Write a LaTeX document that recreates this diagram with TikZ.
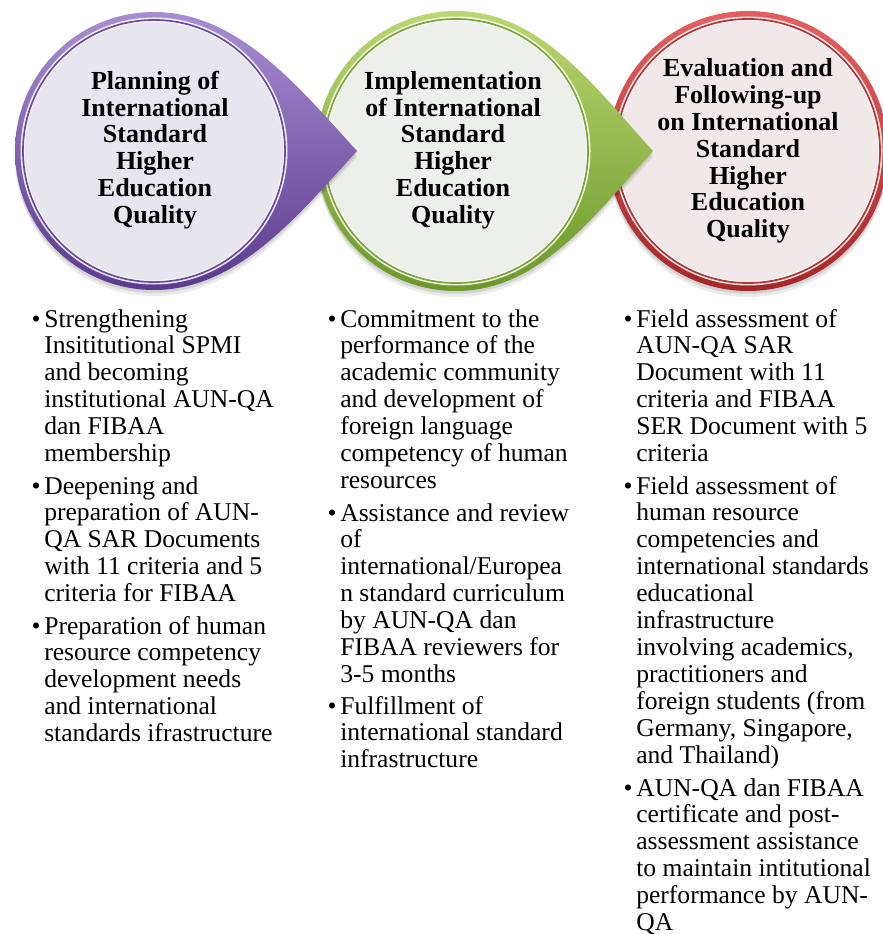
\documentclass[tikz,border=0pt]{standalone}
\usepackage{fontspec}
\setmainfont{Liberation Serif}

\definecolor{plumA}{HTML}{A78ED3}
\definecolor{plumB}{HTML}{5A3B8E}
\definecolor{plumIn}{HTML}{E7E5ED}
\definecolor{leafA}{HTML}{BAD870}
\definecolor{leafB}{HTML}{6C982A}
\definecolor{leafIn}{HTML}{EDEFEA}
\definecolor{rubyA}{HTML}{E46060}
\definecolor{rubyB}{HTML}{A52828}
\definecolor{rubyIn}{HTML}{F1E8EA}

\tikzset{
  % circle with a pointed tail on its right: centre x, centre y, radius, tip x
  teardrop/.style n args={4}{insert path={
    (#1,#2-#3) arc[start angle=270,end angle=90,radius=#3]
    .. controls (#1+85,#2+#3) and (#4-57,#2+62) .. (#4,#2)
    .. controls (#4-57,#2-62) and (#1+85,#2-#3) .. cycle}},
  title/.style={align=center, inner sep=0pt,
    font={\fontsize{19.5}{20.1}\selectfont\bfseries}},
  itemtext/.style={anchor=base west, inner sep=0pt,
    font={\fontsize{19.2}{20.2}\selectfont}},
  bulletmark/.style={anchor=base, inner sep=0pt,
    font={\fontsize{19.2}{20.2}\selectfont}}
}

% lines of one item, baseline at the first line
\newcommand{\itemlines}[1]{\begin{tabular}[t]{@{}l@{}}#1\end{tabular}}

% inner rings shared by every stage: centre x, centre y, radius, light, dark, fill
\newcommand{\rings}[6]{%
  \fill[white, opacity=0.85] (#1,#2) circle (#3-5.5);
  \draw[#5!80!#4, line width=1.3pt, fill=#6] (#1,#2) circle (#3-8);
  \draw[white, opacity=0.6, line width=0.8pt] (#1,#2) circle (#3-9.5);
}
% stage with a tail: centre x, centre y, radius, tip x, light, dark, fill
\newcommand{\stage}[7]{%
  \fill[black, opacity=0.08, teardrop={#1}{#2+6}{#3}{#4}];
  \fill[black, opacity=0.10, teardrop={#1}{#2+3}{#3}{#4}];
  \path[teardrop={#1}{#2}{#3}{#4}, top color=#5, bottom color=#6];
  \rings{#1}{#2}{#3}{#5}{#6}{#7}
}
% last stage, a plain ring: centre x, centre y, radius, light, dark, fill
\newcommand{\laststage}[6]{%
  \fill[black, opacity=0.08] (#1,#2+6) circle (#3);
  \fill[black, opacity=0.10] (#1,#2+3) circle (#3);
  \path[top color=#4, bottom color=#5] (#1,#2) circle (#3);
  \rings{#1}{#2}{#3}{#4}{#5}{#6}
}

\begin{document}
\begin{tikzpicture}[x=0.75pt,y=-0.75pt]
\useasboundingbox (0,0) rectangle (882,934);

% stages, drawn right to left so each tail lies over the next circle
\laststage{748}{151}{140}{rubyA}{rubyB}{rubyIn}
\stage{456}{151}{140}{653}{leafA}{leafB}{leafIn}
\stage{154}{151}{139}{357}{plumA}{plumB}{plumIn}

% titles
\node[title] (t1) at (155,150) {Planning of\\International\\Standard\\Higher\\Education\\Quality};
\node[title] (t2) at (453,150) {Implementation\\of International\\Standard\\Higher\\Education\\Quality};
\node[title] (t3) at (748,151) {Evaluation and\\Following-up\\on International\\Standard\\Higher\\Education\\Quality};

% first column
\node[bulletmark] (b11) at (36,327) {\textbullet};
\node[itemtext] (p11) at (44,327) {\itemlines{Strengthening\\Insititutional SPMI\\and becoming\\institutional AUN-QA\\dan FIBAA\\membership}};
\node[bulletmark] (b12) at (36,494) {\textbullet};
\node[itemtext] (p12) at (44,494) {\itemlines{Deepening and\\preparation of AUN-\\QA SAR Documents\\with 11 criteria and 5\\criteria for FIBAA}};
\node[bulletmark] (b13) at (36,634) {\textbullet};
\node[itemtext] (p13) at (44,634) {\itemlines{Preparation of human\\resource competency\\development needs\\and international\\standards ifrastructure}};

% second column
\node[bulletmark] (b21) at (332,327) {\textbullet};
\node[itemtext] (p21) at (340,327) {\itemlines{Commitment to the\\performance of the\\academic community\\and development of\\foreign language\\competency of human\\resources}};
\node[bulletmark] (b22) at (332,521) {\textbullet};
\node[itemtext] (p22) at (340,521) {\itemlines{Assistance and review\\of\\international/Europea\\n standard curriculum\\by AUN-QA dan\\FIBAA reviewers for\\3-5 months}};
\node[bulletmark] (b23) at (332,714) {\textbullet};
\node[itemtext] (p23) at (340,714) {\itemlines{Fulfillment of\\international standard\\infrastructure}};

% third column
\node[bulletmark] (b31) at (628,327) {\textbullet};
\node[itemtext] (p31) at (636,327) {\itemlines{Field assessment of\\AUN-QA SAR\\Document with 11\\criteria and FIBAA\\SER Document with 5\\criteria}};
\node[bulletmark] (b32) at (628,494) {\textbullet};
\node[itemtext] (p32) at (636,494) {\itemlines{Field assessment of\\human resource\\competencies and\\international standards\\educational\\infrastructure\\involving academics,\\practitioners and\\foreign students (from\\Germany, Singapore,\\and Thailand)}};
\node[bulletmark] (b33) at (628,796) {\textbullet};
\node[itemtext] (p33) at (636,796) {\itemlines{AUN-QA dan FIBAA\\certificate and post-\\assessment assistance\\to maintain intitutional\\performance by AUN-\\QA}};
\end{tikzpicture}
\end{document}
